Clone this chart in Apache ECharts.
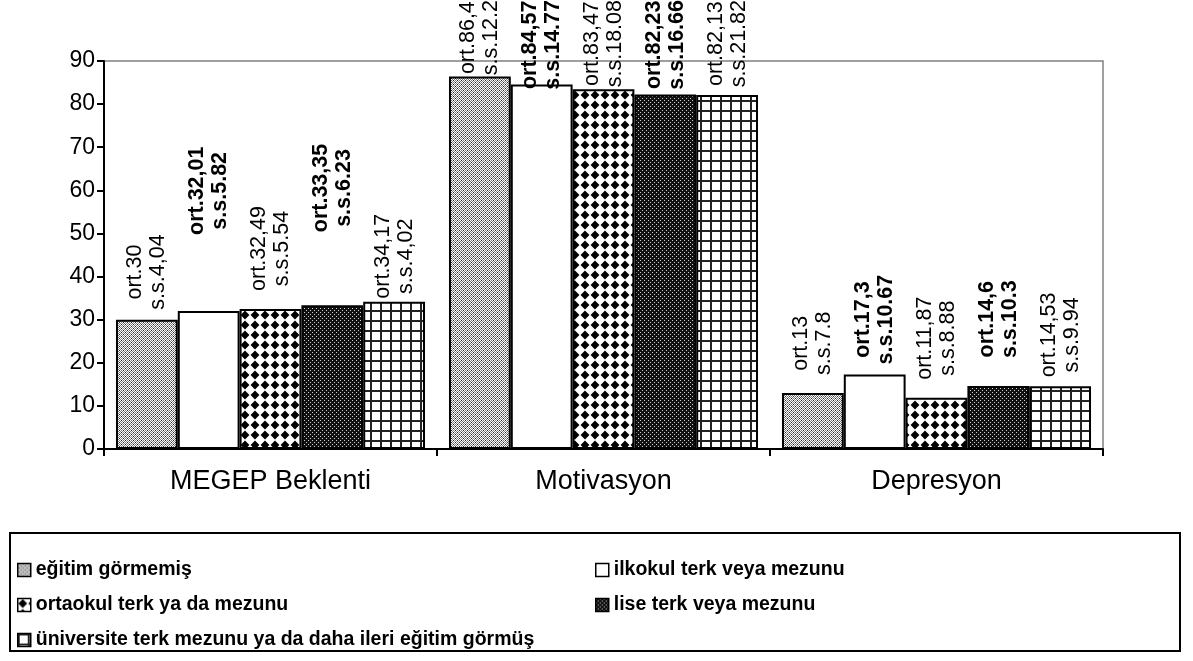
<!DOCTYPE html>
<html>
<head>
<meta charset="utf-8">
<script src="https://cdn.jsdelivr.net/npm/echarts@6.0.0/dist/echarts.min.js"></script>
<style>
  html, body { margin: 0; padding: 0; background: #fff; }
  #chart { width: 1193px; height: 661px; }
</style>
</head>
<body>
<div id="chart"></div>
<script>
// Scale groups compared across education levels
const categories = ['MEGEP Beklenti', 'Motivasyon', 'Depresyon'];

// Education levels (series names)
const groups = [
  'eğitim görmemiş',
  'ilkokul terk veya mezunu',
  'ortaokul terk ya da mezunu',
  'lise terk veya mezunu',
  'üniversite terk mezunu ya da daha ileri eğitim görmüş'
];

// Means (ort.) per scale, one array per education level
const meanEgitimYok   = [30, 86.4, 13];
const meanIlkokul     = [32.01, 84.57, 17.3];
const meanOrtaokul    = [32.49, 83.47, 11.87];
const meanLise        = [33.35, 82.23, 14.6];
const meanUniversite  = [34.17, 82.13, 14.53];

// Standard deviations (s.s.) as printed
const sdEgitimYok  = ['4,04', '12.2', '7.8'];
const sdIlkokul    = ['5.82', '14.77', '10.67'];
const sdOrtaokul   = ['5.54', '18.08', '8.88'];
const sdLise       = ['6.23', '16.66', '10.3'];
const sdUniversite = ['4,02', '21.82', '9.94'];

// Value axis
const yMin = 0, yMax = 90, yStep = 10;

const FONT = '"Liberation Sans", Arial, Helvetica, sans-serif';

// Gap in px between each bar top and its rotated label (per series, per scale)
const labelGap = [
  [10, 8, 18],
  [76, 8, 10],
  [18, 8, 18],
  [73, 8, 28],
  [3, 8, 9]
];

// ---- fill patterns -------------------------------------------------------
function pattern(w, h, draw) {
  const c = document.createElement('canvas');
  c.width = w; c.height = h;
  const g = c.getContext('2d');
  draw(g);
  return { image: c, repeat: 'repeat' };
}

// fine grey checker with dark specks
const fillGrey = pattern(4, 4, g => {
  for (let y = 0; y < 4; y++) for (let x = 0; x < 4; x++) {
    g.fillStyle = (x + y) % 2 === 0 ? '#ffffff' : '#7c7c7c';
    g.fillRect(x, y, 1, 1);
  }
  g.fillStyle = '#2a2a2a';
  g.fillRect(1, 0, 1, 1);
  g.fillRect(3, 2, 1, 1);
});

const fillWhite = '#ffffff';

// black diamonds on white
const fillDiamond = pattern(10, 10, g => {
  g.fillStyle = '#fff';
  g.fillRect(0, 0, 10, 10);
  g.fillStyle = '#000';
  g.beginPath();
  g.moveTo(5, 0.6); g.lineTo(9.4, 5); g.lineTo(5, 9.4); g.lineTo(0.6, 5);
  g.closePath();
  g.fill();
});

// near-black with small light dots
const fillDark = pattern(4, 4, g => {
  g.fillStyle = '#111';
  g.fillRect(0, 0, 4, 4);
  g.fillStyle = '#d0d0d0';
  g.fillRect(0, 0, 1, 1);
  g.fillRect(2, 2, 1, 1);
});

// square grid
const fillGrid = pattern(10, 10, g => {
  g.fillStyle = '#fff';
  g.fillRect(0, 0, 10, 10);
  g.fillStyle = '#222';
  g.fillRect(0, 0, 2, 10);
  g.fillRect(0, 0, 10, 2);
});

// ---- series --------------------------------------------------------------
function makeSeries(idx, means, sds, fill, bold) {
  const weight = bold ? 'bold' : 'normal';
  return {
    name: groups[idx],
    type: 'bar',
    data: means,
    barGap: '0%',
    barCategoryGap: '7.2%',
    itemStyle: { color: fill, borderColor: '#000', borderWidth: 2 },
    emphasis: { disabled: true },
    label: {
      show: true,
      position: 'top',
      rotate: 90,
      align: 'left',
      verticalAlign: 'middle',
      distance: 0,
      fontFamily: FONT,
      fontSize: 21.5,
      fontWeight: weight,
      color: '#000',
      formatter: p =>
        '{t|ort.' + String(p.value).replace('.', ',') + '}\n{t|s.s.' + sds[p.dataIndex] + '}',
      rich: {
        t: { align: 'center', fontFamily: FONT, fontSize: 21.5, fontWeight: weight, color: '#000', lineHeight: 23 }
      }
    },
    // lift each label above its bar, but never past the top edge of the canvas.
    // The offset is given in the label's own (rotated) frame, where +x points up.
    labelLayout: p => {
      let lift = labelGap[p.seriesIndex][p.dataIndex];
      if (p.labelRect.y - lift < 0) lift = p.labelRect.y;
      return { dx: lift };
    }
  };
}

const series = [
  makeSeries(0, meanEgitimYok, sdEgitimYok, fillGrey, false),
  makeSeries(1, meanIlkokul, sdIlkokul, fillWhite, true),
  makeSeries(2, meanOrtaokul, sdOrtaokul, fillDiamond, false),
  makeSeries(3, meanLise, sdLise, fillDark, true),
  makeSeries(4, meanUniversite, sdUniversite, fillGrid, false)
];

// two-column legend, one component per entry
const legends = groups.map((g, i) => ({
  data: [g],
  left: i % 2 === 0 ? 17 : 595,
  top: 560 + Math.floor(i / 2) * 35,
  orient: 'horizontal',
  selectedMode: false,
  icon: 'rect',
  itemWidth: 13,
  itemHeight: 13,
  itemStyle: { borderColor: '#000', borderWidth: 1.5 },
  textStyle: { fontFamily: FONT, fontSize: 19.5, fontWeight: 'bold', color: '#000' },
  padding: 0
}));

const chart = echarts.init(document.getElementById('chart'), null, { renderer: 'canvas' });

chart.setOption({
  animation: false,
  backgroundColor: '#fff',
  grid: {
    left: 104,
    right: 90,
    top: 61,
    bottom: 212,
    show: true,
    borderColor: '#808080',
    borderWidth: 1.5,
    containLabel: false,
    outerBoundsMode: 'none'
  },
  xAxis: {
    type: 'category',
    data: categories,
    axisLine: { show: true, lineStyle: { color: '#000', width: 2 } },
    axisTick: { show: true, length: 7, lineStyle: { color: '#000', width: 2 } },
    axisLabel: { fontFamily: FONT, fontSize: 27, color: '#000', margin: 19 },
    splitLine: { show: false }
  },
  yAxis: {
    type: 'value',
    min: yMin,
    max: yMax,
    interval: yStep,
    axisLine: { show: true, lineStyle: { color: '#000', width: 2 } },
    axisTick: { show: true, length: 7, lineStyle: { color: '#000', width: 2 } },
    axisLabel: { fontFamily: FONT, fontSize: 23, color: '#000', margin: 9 },
    splitLine: { show: false }
  },
  legend: legends,
  graphic: [{
    type: 'rect',
    z: -1,
    shape: { x: 10, y: 533, width: 1170, height: 118 },
    style: { fill: 'none', stroke: '#000', lineWidth: 2 }
  }],
  series: series
});
</script>
</body>
</html>
